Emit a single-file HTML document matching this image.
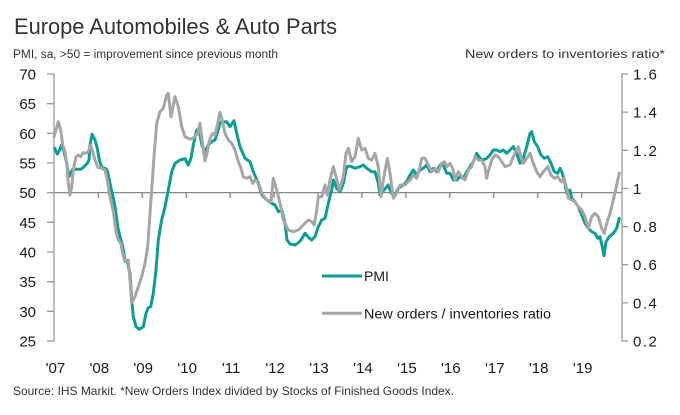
<!DOCTYPE html>
<html><head><meta charset="utf-8"><style>
html,body{margin:0;padding:0;background:#fff;}
svg{display:block;font-family:"Liberation Sans",sans-serif;}
</style></head><body>
<svg width="680" height="415" viewBox="0 0 680 415" xmlns="http://www.w3.org/2000/svg">
<rect width="680" height="415" fill="#fff"/>
<text x="14" y="34" font-size="22" fill="#333" textLength="323" lengthAdjust="spacingAndGlyphs">Europe Automobiles &amp; Auto Parts</text>
<text x="13" y="58" font-size="11.5" fill="#333" textLength="265" lengthAdjust="spacingAndGlyphs">PMI, sa, &gt;50 = improvement since previous month</text>
<text x="665" y="58" font-size="11.5" fill="#333" text-anchor="end" textLength="200" lengthAdjust="spacingAndGlyphs">New orders to inventories ratio*</text>

<!-- axes -->
<g stroke="#9a9a9a" stroke-width="1.3" fill="none">
<path d="M47,74H54V341H47"/>
<path d="M47,103.7H54M47,133.3H54M47,163H54M47,192.7H54M47,222.3H54M47,252H54M47,281.7H54M47,311.3H54"/>
<path d="M628,74H622V341H628"/>
<path d="M622,112.1H628M622,150.3H628M622,188.4H628M622,226.6H628M622,264.7H628M622,302.9H628"/>
</g>
<g stroke="#888" stroke-width="1.3" fill="none">
<path d="M54,192.6H622"/>
<path d="M98.3,192.6V198M142.2,192.6V198M186.2,192.6V198M230.1,192.6V198M274.1,192.6V198M318,192.6V198M361.9,192.6V198M405.9,192.6V198M449.8,192.6V198M493.8,192.6V198M537.7,192.6V198M581.7,192.6V198"/>
</g>

<!-- left labels -->
<g font-size="15" fill="#1a1a1a" text-anchor="end">
<text x="36" y="79.5">70</text>
<text x="36" y="109.2">65</text>
<text x="36" y="138.8">60</text>
<text x="36" y="168.5">55</text>
<text x="36" y="198.2">50</text>
<text x="36" y="227.8">45</text>
<text x="36" y="257.5">40</text>
<text x="36" y="287.2">35</text>
<text x="36" y="316.8">30</text>
<text x="36" y="346.5">25</text>
</g>
<!-- right labels -->
<g font-size="15" fill="#1a1a1a" letter-spacing="1.5">
<text x="633" y="79.5">1.6</text>
<text x="633" y="117.6">1.4</text>
<text x="633" y="155.8">1.2</text>
<text x="633" y="193.9">1</text>
<text x="633" y="232.1">0.8</text>
<text x="633" y="270.2">0.6</text>
<text x="633" y="308.4">0.4</text>
<text x="633" y="346.5">0.2</text>
</g>
<!-- x labels -->
<g font-size="15" fill="#1a1a1a" text-anchor="middle">
<text x="55.4" y="373">'07</text>
<text x="99.3" y="373">'08</text>
<text x="143.2" y="373">'09</text>
<text x="187.2" y="373">'10</text>
<text x="231.1" y="373">'11</text>
<text x="275.1" y="373">'12</text>
<text x="319" y="373">'13</text>
<text x="362.9" y="373">'14</text>
<text x="406.9" y="373">'15</text>
<text x="450.8" y="373">'16</text>
<text x="494.8" y="373">'17</text>
<text x="538.7" y="373">'18</text>
<text x="582.7" y="373">'19</text>
</g>
<text x="13" y="395" font-size="12" fill="#333" textLength="441" lengthAdjust="spacingAndGlyphs">Source: IHS Markit. *New Orders Index divided by Stocks of Finished Goods Index.</text>

<!-- PMI teal -->
<polyline fill="none" stroke="#0B9E97" stroke-width="3" stroke-linejoin="round" stroke-linecap="round" points="
54.7,148.3 57.3,154 59.3,150.7 61.7,145 64,151.7 66.7,163.3 69,176.7 70.7,173.3 72.7,169.3 76.7,169.3 80.7,169.3 83.3,167.3 86.7,164 89,160 90,145 92,134.3 95,140 97.3,148.3 99.3,160 101.7,167.3 104.3,168.3 106.7,169.3 108.3,175 110.7,186.7 112.7,195 115,206.7 117.7,226.7 120,236.7 122.7,246.7 125,260 127.3,261.7 130,273.3 131.7,300 133.3,316.7 136,326.7 139.3,329.3 143.3,326.7 146,313.3 148.3,307.7 150.7,306.7 153.3,293.3 156,270 158.3,240 161.7,220 165,207 168.3,190 171.7,171.7 175,163.3 180,160 185,158.7 188.3,165 191,158.3 193.3,145 196.7,130 198.3,129.3 200,135 202.3,146.7 205,151.7 208.3,145 211.7,141.7 215,140 217.7,131.7 220.3,122.3 226.7,121.7 230,126.7 234,120.7 236.7,133.3 240,146.7 245,158.3 250,161.7 253.3,171.7 258.3,183.3 261.7,195 266.7,200 271.7,203.3 275,205 278.3,211.7 281.7,210 285,223.3 287,240 290,244 295,245 298,243 301,240 305,233.3 308,236.7 311.7,240 315,236.7 318.3,226.7 321.7,220 325,218.3 328.3,203.3 331.7,190 333.3,180 336.7,188.3 340,191.7 343.3,183.3 346.7,166.7 350,166 355,168.3 360,166.7 363.3,165 366.7,168.3 371.7,171.7 375,171.7 378.3,183.3 380,195 384,190 388,185 391,192 394,197 398.3,188.3 403.3,185 406.7,181.7 410,175 413.3,170 416.7,175 420,170 423.3,168.3 426.7,165 430,171.7 433.3,168.3 436.7,171.7 440,165 443.3,165 446.7,173.3 450,173.3 453.3,180 456.7,180 460,176.7 463.3,178.3 466.7,171.7 470,166.7 473.3,161.7 476.7,153.3 480,158.3 483.3,160 486.7,158.3 490,155 493.3,150 496.7,150 500,151.7 503.3,150 506.7,153.3 510,150 513.3,146.7 516.7,153.3 520,163.3 523.3,158.3 526.7,146.7 530,133.3 531.7,131.7 534.3,141.7 537.7,146.7 541,155 544.3,158.3 547.7,156.7 551,163.3 554.3,171.7 557.7,173.3 560,168.3 562.3,173.3 565,183.3 566.7,193.3 570,190 571.7,198.3 575,201.7 578.3,206.7 581.7,215 585,223.3 588.3,228.3 591.7,231.7 595,233.3 597.7,238.3 600,236.7 602.3,246.7 604,255.7 606,241.7 609.3,236.7 613.3,233.3 616.7,228.3 619.3,218.3"/>

<!-- Ratio gray -->
<polyline fill="none" stroke="#A6A6A6" stroke-width="3" stroke-linejoin="round" stroke-linecap="round" points="
54,136.7 56,130 58.3,121.7 60.7,130 62.7,145 65,151.7 66.7,163.3 68.3,183.3 70,195 71.7,186.7 73.3,170 76,156.7 78.3,155 80.7,156.7 83.3,152.7 86,153.3 88.3,151.7 90.7,145 92.7,151.7 95,160 97.7,167.3 101.7,168.3 105,170 107.3,180 109.3,193.3 111,201.7 113.3,211.7 116,231.7 118.3,240 120.7,243.3 122.7,253.3 125,261.7 128.3,260 130,280 131.7,302.7 135,296.7 138.3,286.7 141.7,276.7 145,263.3 147.7,246.7 149.3,223.3 151.7,190 154,156.7 156.7,123.3 160,111.7 163.3,108.3 166.7,95 168.3,93.3 171,116.7 175,96.7 178.3,106.7 181.7,126.7 185,136.7 190,139.3 194.3,137.3 197.7,133.3 200,123.3 202.3,141.7 205,161 207.3,151.7 210,138.3 212.7,133.3 215,135 217.7,123.3 220,112.3 222.3,120 225,133.3 228.3,140 231.7,143.3 235,150 238.3,161.7 241,168.3 243.3,176.7 246.7,178.3 250,176.7 252.7,183.3 255,180 258.3,181.7 261.7,193.3 266.7,200 271,201.7 273.3,178.3 276.7,190 280,203 283.3,220 288.3,230 293.3,231.7 298.3,230 303.3,225 308.3,220 311.7,221.7 314.3,225 316.7,210 318.3,196.7 321.7,196.7 325,185 327.3,195 330,180 333.3,166.7 336,176.7 339.3,190 343.3,176.7 346,153.3 348.3,148.3 351.7,161.7 355,156.7 358.3,138.3 361.7,150 365,148.3 368.3,158.3 371.7,160 375,153.3 378.3,166.7 381,196.7 383.3,180 387.3,158.3 390,173.3 393.3,198.3 396.7,193.3 400,185 405,185 410,180 413.3,175 416.7,178.3 420,166.7 421.7,158.3 425,158.3 428.3,165 431.7,171.7 435,168.3 438.3,171.7 441.7,163.3 444.3,161.7 446.7,166.7 450,163.3 453.3,170 455,180 458.3,171.7 461.7,176.7 465,180 468.3,170 471.7,166.7 475,156.7 478.3,160 481.7,160 485,166.7 486.7,178.3 488.3,171.7 491.7,160 495,155 498.3,156.7 501.7,161.7 505,166.7 510,165 513.3,156.7 518.3,146.7 521,156.7 523.3,163.3 526.7,158.3 530,153.3 533.3,163.3 536.7,171.7 540,176.7 543.3,171.7 547.7,166.7 551,175 554.3,178.3 557.7,176.7 561,181.7 564.3,178.3 566.7,188.3 568.3,198.3 571.7,200 575,201.7 578.3,206.7 581.7,210 585,216.7 588.3,228.3 591.7,216.7 595,213.3 598.3,216.7 601.7,228.3 604.3,233.3 606.7,223.3 610,213.3 613.3,200 616.7,185 619.3,173.3"/>

<!-- legend -->
<line x1="322" y1="276" x2="362" y2="276" stroke="#0B9E97" stroke-width="3"/>
<text x="364" y="281" font-size="14" fill="#1a1a1a">PMI</text>
<line x1="322" y1="313.3" x2="362" y2="313.3" stroke="#A6A6A6" stroke-width="3"/>
<text x="364" y="318.3" font-size="14" fill="#1a1a1a" textLength="187" lengthAdjust="spacingAndGlyphs">New orders / inventories ratio</text>
</svg>
</body></html>
